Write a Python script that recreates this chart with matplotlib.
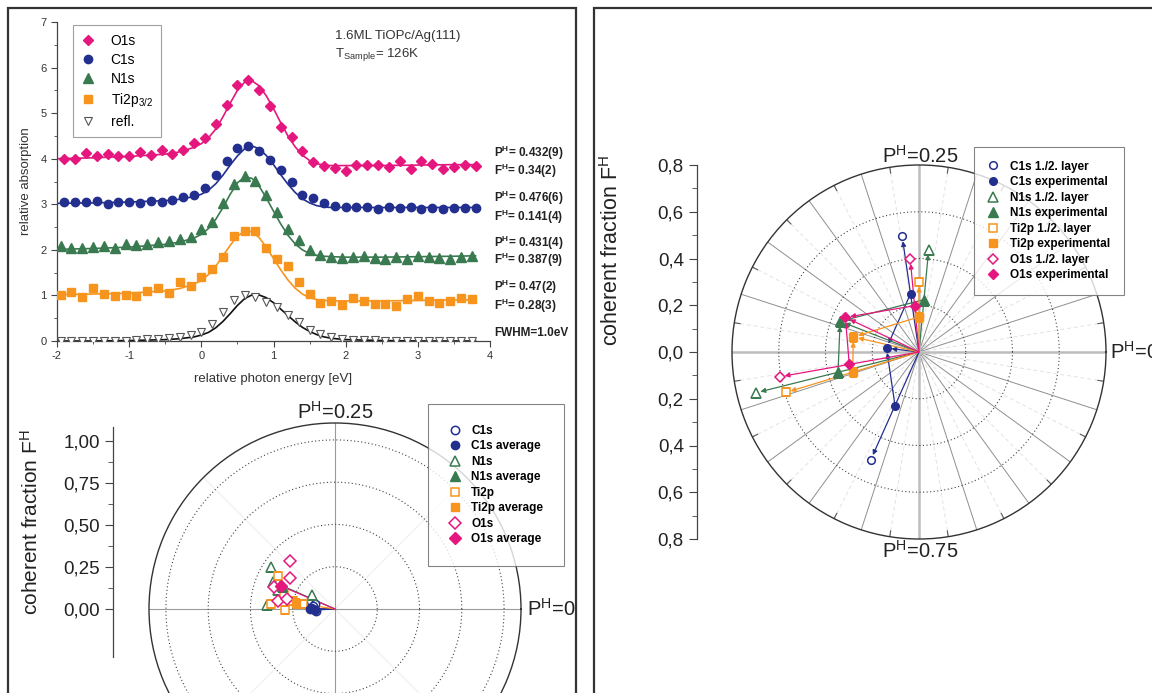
import matplotlib
matplotlib.use("Agg")
import matplotlib.pyplot as plt
from matplotlib.patches import Rectangle
from matplotlib.ticker import MultipleLocator, FixedLocator
import numpy as np

plt.rcParams['font.family'] = ['Liberation Sans', 'DejaVu Sans']
plt.rcParams['mathtext.fontset'] = 'custom'
plt.rcParams['mathtext.rm'] = 'Liberation Sans'
plt.rcParams['mathtext.bf'] = 'Liberation Sans:bold'
plt.rcParams['mathtext.default'] = 'regular'
plt.rcParams['axes.unicode_minus'] = False

PINK = '#e5177e'
NAVY = '#232f8e'
GREEN = '#3a7a50'
ORANGE = '#f7941d'

# --- NIXSW spectra (top left) ---
energy_a = [-1.90, -1.75, -1.60, -1.45, -1.30, -1.15, -1.00, -0.85, -0.70, -0.55,
            -0.40, -0.25, -0.10, 0.05, 0.20, 0.35, 0.50, 0.65, 0.80, 0.95,
            1.10, 1.25, 1.40, 1.55, 1.70, 1.85, 2.00, 2.15, 2.30, 2.45,
            2.60, 2.75, 2.90, 3.05, 3.20, 3.35, 3.50, 3.65, 3.80]
energy_b = [-1.95, -1.80, -1.65, -1.50, -1.35, -1.20, -1.05, -0.90, -0.75, -0.60,
            -0.45, -0.30, -0.15, 0.00, 0.15, 0.30, 0.45, 0.60, 0.75, 0.90,
            1.05, 1.20, 1.35, 1.50, 1.65, 1.80, 1.95, 2.10, 2.25, 2.40,
            2.55, 2.70, 2.85, 3.00, 3.15, 3.30, 3.45, 3.60, 3.75]

o1s_abs = [3.99, 3.99, 4.13, 4.05, 4.11, 4.06, 4.06, 4.14, 4.09, 4.20, 4.10, 4.20, 4.34,
           4.45, 4.77, 5.17, 5.62, 5.72, 5.50, 5.15, 4.70, 4.48, 4.17, 3.93, 3.83, 3.80,
           3.72, 3.87, 3.86, 3.86, 3.81, 3.94, 3.77, 3.95, 3.89, 3.77, 3.81, 3.87, 3.83]
c1s_abs = [3.06, 3.06, 3.05, 3.07, 3.01, 3.05, 3.05, 3.02, 3.07, 3.06, 3.09, 3.16, 3.20,
           3.35, 3.64, 3.95, 4.23, 4.28, 4.17, 3.98, 3.75, 3.48, 3.21, 3.14, 3.03, 2.96,
           2.94, 2.94, 2.94, 2.89, 2.94, 2.91, 2.94, 2.90, 2.92, 2.90, 2.91, 2.91, 2.92]
n1s_abs = [2.08, 2.04, 2.04, 2.06, 2.09, 2.04, 2.13, 2.10, 2.13, 2.18, 2.19, 2.24, 2.28,
           2.45, 2.61, 3.02, 3.45, 3.61, 3.51, 3.20, 2.84, 2.46, 2.22, 1.99, 1.88, 1.84,
           1.82, 1.84, 1.86, 1.82, 1.79, 1.84, 1.79, 1.86, 1.84, 1.82, 1.80, 1.84, 1.86]
ti2p_abs = [1.01, 1.07, 0.96, 1.16, 1.04, 0.99, 1.01, 0.99, 1.10, 1.16, 1.05, 1.29, 1.21,
            1.40, 1.58, 1.84, 2.31, 2.41, 2.41, 2.03, 1.80, 1.65, 1.29, 1.04, 0.84, 0.88,
            0.78, 0.95, 0.88, 0.82, 0.81, 0.77, 0.93, 0.98, 0.87, 0.83, 0.87, 0.95, 0.92]
refl_abs = [0.00, 0.00, 0.00, 0.00, 0.01, 0.01, 0.01, 0.02, 0.04, 0.05, 0.06, 0.09, 0.14,
            0.20, 0.38, 0.64, 0.90, 1.00, 0.97, 0.86, 0.74, 0.58, 0.41, 0.25, 0.16, 0.08,
            0.05, 0.03, 0.02, 0.02, 0.01, 0.01, 0.01, 0.01, 0.00, 0.00, 0.00, 0.00, 0.00]

fit_x = [-2.0, -1.5, -1.0, -0.5, -0.3, -0.1, 0.0, 0.1, 0.2, 0.3, 0.4, 0.5, 0.6, 0.7, 0.8,
         0.9, 1.0, 1.1, 1.2, 1.3, 1.4, 1.5, 1.6, 1.7, 1.8, 2.0, 2.5, 3.0, 3.5, 3.8]
o1s_fit = [4.00, 4.02, 4.05, 4.10, 4.15, 4.25, 4.33, 4.46, 4.65, 4.92, 5.22, 5.50, 5.68, 5.71,
           5.60, 5.38, 5.10, 4.79, 4.50, 4.26, 4.08, 3.96, 3.89, 3.86, 3.85, 3.85, 3.85, 3.86,
           3.87, 3.87]
c1s_fit = [3.02, 3.03, 3.05, 3.08, 3.11, 3.17, 3.22, 3.31, 3.45, 3.64, 3.86, 4.06, 4.22, 4.28,
           4.22, 4.07, 3.87, 3.65, 3.44, 3.26, 3.12, 3.03, 2.97, 2.94, 2.93, 2.93, 2.93, 2.93,
           2.93, 2.93]
n1s_fit = [2.01, 2.03, 2.06, 2.12, 2.17, 2.26, 2.34, 2.47, 2.67, 2.93, 3.22, 3.47, 3.60, 3.57,
           3.40, 3.14, 2.85, 2.57, 2.32, 2.13, 2.00, 1.92, 1.88, 1.86, 1.85, 1.84, 1.84, 1.85,
           1.86, 1.87]
ti2p_fit = [1.02, 1.03, 1.05, 1.10, 1.15, 1.25, 1.33, 1.46, 1.64, 1.87, 2.10, 2.30, 2.41, 2.40,
            2.27, 2.06, 1.81, 1.56, 1.34, 1.16, 1.03, 0.95, 0.91, 0.89, 0.88, 0.88, 0.88, 0.89,
            0.90, 0.90]
refl_fit = [0.00, 0.00, 0.01, 0.03, 0.05, 0.09, 0.13, 0.19, 0.29, 0.43, 0.60, 0.78, 0.93, 1.01,
            1.01, 0.95, 0.84, 0.70, 0.56, 0.42, 0.30, 0.21, 0.14, 0.09, 0.06, 0.03, 0.01, 0.00,
            0.00, 0.00]

fit_results = ['P$^H$= 0.432(9)', 'F$^H$= 0.34(2)', 'P$^H$= 0.476(6)', 'F$^H$= 0.141(4)',
               'P$^H$= 0.431(4)', 'F$^H$= 0.387(9)', 'P$^H$= 0.47(2)', 'F$^H$= 0.28(3)',
               'FWHM=1.0eV']
fit_results_y = [4.13, 3.73, 3.14, 2.73, 2.16, 1.77, 1.18, 0.77, 0.18]

# --- single measurements (bottom left polar), P^H and F^H ---
c1s_P = [0.450, 0.461, 0.476, 0.494, 0.514]
c1s_F = [0.150, 0.124, 0.132, 0.140, 0.110]
c1s_avg_P = [0.497, 0.503, 0.508]
c1s_avg_F = [0.145, 0.130, 0.120]
n1s_P = [0.408, 0.436, 0.430, 0.449, 0.491, 0.413]
n1s_F = [0.452, 0.401, 0.370, 0.357, 0.402, 0.160]
n1s_avg_P = [0.434]
n1s_avg_F = [0.340]
ti2p_P = [0.488, 0.503, 0.457, 0.468, 0.477, 0.416]
ti2p_F = [0.382, 0.294, 0.313, 0.251, 0.192, 0.391]
ti2p_avg_P = [0.476]
ti2p_avg_F = [0.231]
o1s_P = [0.371, 0.404, 0.445, 0.479, 0.468]
o1s_F = [0.389, 0.321, 0.383, 0.338, 0.290]
o1s_avg_P = [0.436]
o1s_avg_F = [0.347]

# --- two-layer model (right polar): C1s, N1s, Ti2p, O1s ---
layer1_P = [0.273, 0.235, 0.250, 0.265]
layer1_F = [0.500, 0.440, 0.300, 0.400]
layer2_P = [0.683, 0.539, 0.547, 0.528]
layer2_F = [0.504, 0.720, 0.595, 0.605]
half1_F = [0.252, 0.225, 0.150, 0.199]
half2_F = [0.251, 0.357, 0.297, 0.303]
exp_P = [0.481, 0.441, 0.464, 0.430]
exp_F = [0.140, 0.362, 0.288, 0.348]

W, H = 1152, 693
fig = plt.figure(figsize=(W / 100, H / 100), dpi=100)


def rect(x0, y0, x1, y1):
    # pixel box (top-left origin) -> figure fraction
    return [x0 / W, 1 - y1 / H, (x1 - x0) / W, (y1 - y0) / H]


def fpos(x, y):
    return x / W, 1 - y / H


# panel frames
for x0, x1 in [(8, 576), (594, 1200)]:
    fig.add_artist(Rectangle((x0 / W, -0.1), (x1 - x0) / W, 1.1 - 8 / H,
                             transform=fig.transFigure, fill=False,
                             edgecolor='#333333', lw=1.6, clip_on=False))

# ================= spectra =================
ax1 = fig.add_axes(rect(57, 22, 490, 341))
series = [
    ('O1s', energy_a, o1s_abs, o1s_fit, PINK, 'D', 5.5),
    ('C1s', energy_a, c1s_abs, c1s_fit, NAVY, 'o', 6),
    ('N1s', energy_b, n1s_abs, n1s_fit, GREEN, '^', 6.5),
    ('Ti2p$_{3/2}$', energy_b, ti2p_abs, ti2p_fit, ORANGE, 's', 5.5),
]
handles = []
for name, ex, y, fit, c, m, ms in series:
    ax1.plot(fit_x, fit, color=c, lw=1.2, zorder=2)
    h, = ax1.plot(ex, y, ls='none', marker=m, ms=ms, color=c, mec=c, zorder=3, label=name)
    handles.append(h)
ax1.plot(fit_x, refl_fit, color='#111111', lw=1.2, zorder=2)
h, = ax1.plot(energy_b, refl_abs, ls='none', marker='v', ms=6, mfc='white',
              mec='#555555', mew=0.8, zorder=3, label='refl.')
handles.append(h)

ax1.set_xlim(-2, 4)
ax1.set_ylim(0, 7)
ax1.spines['top'].set_visible(False)
ax1.spines['right'].set_visible(False)
for s in ['left', 'bottom']:
    ax1.spines[s].set_color('#444444')
    ax1.spines[s].set_linewidth(0.9)
ax1.xaxis.set_major_locator(MultipleLocator(1))
ax1.xaxis.set_minor_locator(MultipleLocator(0.5))
ax1.yaxis.set_major_locator(MultipleLocator(1))
ax1.yaxis.set_minor_locator(MultipleLocator(0.5))
ax1.tick_params(which='both', direction='out', color='#444444', labelsize=8, labelcolor='#333333')
ax1.tick_params(which='major', length=4)
ax1.tick_params(which='minor', length=2.5)
ax1.set_xlabel('relative photon energy [eV]', fontsize=9.5, color='#333333', labelpad=8)
ax1.set_ylabel('relative absorption', fontsize=9.5, color='#333333', labelpad=6)

leg = ax1.legend(handles=handles, loc='upper left', bbox_to_anchor=(0.037, 0.99),
                 borderaxespad=0, fontsize=10, frameon=True, fancybox=False,
                 edgecolor='#888888', handlelength=1.0, handletextpad=1.1,
                 labelspacing=0.38, borderpad=0.6)
leg.get_frame().set_linewidth(0.8)

ax1.text(0.642, 0.955, '1.6ML TiOPc/Ag(111)', transform=ax1.transAxes, fontsize=9.5,
         color='#333333', va='center')
ax1.text(0.642, 0.898, 'T$_{Sample}$= 126K', transform=ax1.transAxes, fontsize=9.5,
         color='#333333', va='center')
for txt, yv in zip(fit_results, fit_results_y):
    ax1.text(1.01, yv, txt, transform=ax1.get_yaxis_transform(), fontsize=8.5,
             fontweight='bold', color='#222222', va='center', ha='left', clip_on=False)


# ================= polar helpers =================
def polar_base(ax, rmax):
    ax.set_ylim(0, rmax)
    ax.set_xticks([])
    ax.set_yticks([])
    ax.grid(False)
    ax.spines['polar'].set_color('#333333')
    ax.spines['polar'].set_linewidth(1.0)


def circles(ax, radii):
    th = np.linspace(0, 2 * np.pi, 400)
    for r in radii:
        ax.plot(th, np.full_like(th, r), color='#444444', lw=0.8, ls=(0, (1, 2.2)), zorder=1)


def spokes(ax, angles_deg, r0, r1, **kw):
    for a in angles_deg:
        t = np.deg2rad(a)
        ax.plot([t, t], [r0, r1], zorder=1, **kw)


def arrow(ax, start, end, c, shrink=3.5):
    ax.annotate('', xy=end, xytext=start, zorder=3,
                arrowprops=dict(arrowstyle='-|>', color=c, lw=0.9, shrinkA=0,
                                shrinkB=shrink, mutation_scale=7))


def side_axis(box, ylim, ticks, labels, minor):
    ay = fig.add_axes(box)
    ay.set_ylim(*ylim)
    ay.set_xticks([])
    for s in ['top', 'right', 'bottom']:
        ay.spines[s].set_visible(False)
    ay.spines['left'].set_color('#444444')
    ay.spines['left'].set_linewidth(0.9)
    ay.set_yticks(ticks)
    ay.set_yticklabels(labels)
    ay.yaxis.set_minor_locator(FixedLocator(minor))
    ay.tick_params(which='both', direction='out', color='#444444', labelsize=13.5,
                   labelcolor='#222222')
    ay.tick_params(which='major', length=6)
    ay.tick_params(which='minor', length=3.5)
    ay.patch.set_alpha(0)
    return ay


def legend_box(h, l, x, y, pad):
    lg = fig.legend(h, l, loc='upper left', bbox_to_anchor=fpos(x, y),
                    bbox_transform=fig.transFigure, borderaxespad=0, frameon=True,
                    fancybox=False, edgecolor='#666666', prop=dict(size=8.5, weight='bold'),
                    handlelength=1.0, handletextpad=0.9, labelspacing=0.3, borderpad=pad)
    lg.get_frame().set_linewidth(0.8)
    return lg


# ================= bottom left polar =================
ax2 = fig.add_axes(rect(335 - 186, 609 - 186, 335 + 186, 609 + 186), projection='polar')
polar_base(ax2, 1.1)
spokes(ax2, [45, 135, 225, 315], 0, 1.1, color='#efefef', lw=0.8)
spokes(ax2, [0, 90, 180, 270], 0, 1.1, color='#9a9a9a', lw=0.8)
circles(ax2, [0.25, 0.5, 0.75, 1.0])

singles = [
    ('C1s', c1s_P, c1s_F, c1s_avg_P, c1s_avg_F, NAVY, 'o', 6),
    ('N1s', n1s_P, n1s_F, n1s_avg_P, n1s_avg_F, GREEN, '^', 7),
    ('Ti2p', ti2p_P, ti2p_F, ti2p_avg_P, ti2p_avg_F, ORANGE, 's', 6),
    ('O1s', o1s_P, o1s_F, o1s_avg_P, o1s_avg_F, PINK, 'D', 6),
]
h2, l2 = [], []
for name, P, F, aP, aF, c, m, ms in singles:
    th = 2 * np.pi * np.array(P)
    ath = 2 * np.pi * np.array(aP)
    for t, f in zip(ath, aF):
        ax2.plot([t, t], [0, f], color=c, lw=0.9, zorder=2)
    ho, = ax2.plot(th, F, ls='none', marker=m, ms=ms, mfc='white', mec=c, mew=1.1, zorder=3)
    hf, = ax2.plot(ath, aF, ls='none', marker=m, ms=ms, color=c, zorder=4)
    h2 += [ho, hf]
    l2 += [name, name + ' average']

side_axis(rect(113, 427, 114, 657), (-0.2857, 1.0833), [0, 0.25, 0.5, 0.75, 1.0],
          ['0,00', '0,25', '0,50', '0,75', '1,00'], [0.125, 0.375, 0.625, 0.875])
fig.text(*fpos(31, 522), 'coherent fraction F$^H$', rotation=90, fontsize=15,
         color='#222222', ha='center', va='center')
fig.text(*fpos(335, 412), 'P$^H$=0.25', fontsize=14.5, color='#222222', ha='center', va='center')
fig.text(*fpos(527, 609), 'P$^H$=0', fontsize=14.5, color='#222222', ha='left', va='center')
legend_box(h2, l2, 428, 404, 1.75)

# ================= right polar (two-layer model) =================
ax3 = fig.add_axes(rect(919 - 187, 352 - 187, 919 + 187, 352 + 187), projection='polar')
polar_base(ax3, 0.8)
spokes(ax3, [9 + 18 * k for k in range(20)], 0.03, 0.8, color='#e2e2e2', lw=0.7, ls=(0, (4, 3)))
spokes(ax3, [18 * k for k in range(20) if (18 * k) % 90], 0, 0.8, color='#8f8f8f', lw=0.7)
spokes(ax3, [0, 90, 180, 270], 0, 0.8, color='#bdbdbd', lw=1.8)
spokes(ax3, [9 + 18 * k for k in range(20)], 0.775, 0.8, color='#555555', lw=0.8)
circles(ax3, [0.2, 0.4, 0.6])

model = [('C1s', NAVY, 'o', 5.5), ('N1s', GREEN, '^', 6.5),
         ('Ti2p', ORANGE, 's', 5.5), ('O1s', PINK, 'D', 5.5)]
h3, l3 = [], []
for i, (name, c, m, ms) in enumerate(model):
    t1 = 2 * np.pi * layer1_P[i]
    t2 = 2 * np.pi * layer2_P[i]
    te = 2 * np.pi * exp_P[i]
    arrow(ax3, (t1, 0), (t1, layer1_F[i]), c)
    arrow(ax3, (t2, 0), (t2, layer2_F[i]), c)
    arrow(ax3, (te, 0), (te, exp_F[i]), c)
    arrow(ax3, (t1, half1_F[i]), (te, exp_F[i]), c)
    arrow(ax3, (t2, half2_F[i]), (te, exp_F[i]), c)
    ho, = ax3.plot([t1, t2], [layer1_F[i], layer2_F[i]], ls='none', marker=m, ms=ms,
                   mfc='white', mec=c, mew=1.1, zorder=4)
    hf, = ax3.plot([t1, t2, te], [half1_F[i], half2_F[i], exp_F[i]], ls='none', marker=m,
                   ms=ms, color=c, zorder=4)
    h3 += [ho, hf]
    l3 += [name + ' 1./2. layer', name + ' experimental']

ticks3 = [-0.8, -0.6, -0.4, -0.2, 0.0, 0.2, 0.4, 0.6, 0.8]
side_axis(rect(697, 165, 698, 539), (-0.8, 0.8), ticks3,
          [f'{abs(v):.1f}'.replace('.', ',') for v in ticks3],
          [-0.7, -0.5, -0.3, -0.1, 0.1, 0.3, 0.5, 0.7])
fig.text(*fpos(612, 250), 'coherent fraction F$^H$', rotation=90, fontsize=15.5,
         color='#222222', ha='center', va='center')
fig.text(*fpos(920, 156), 'P$^H$=0.25', fontsize=14.5, color='#222222', ha='center', va='center')
fig.text(*fpos(920, 551), 'P$^H$=0.75', fontsize=14.5, color='#222222', ha='center', va='center')
fig.text(*fpos(1110, 352), 'P$^H$=0', fontsize=14.5, color='#222222', ha='left', va='center')
legend_box(h3, l3, 974, 147, 1.15)

fig.savefig('out.png', dpi=100)
